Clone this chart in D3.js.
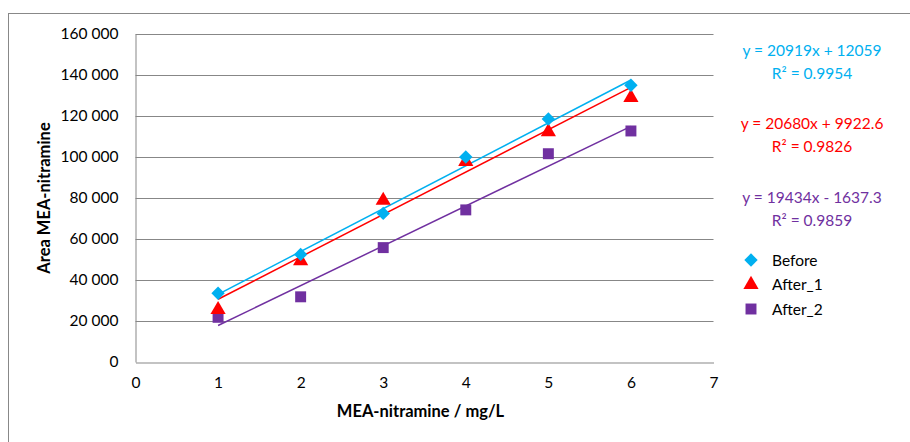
<!DOCTYPE html>
<html>
<head>
<meta charset="utf-8">
<script src="https://cdn.jsdelivr.net/npm/d3@7"></script>
<style>
  html, body { margin: 0; padding: 0; background: #fff; }
  svg { display: block; font-family: Lato, "Liberation Sans", sans-serif; }
</style>
</head>
<body>
<svg id="chart" width="910" height="442"></svg>
<script>
// Concentrations (mg/L)
const concentrations = [1, 2, 3, 4, 5, 6];

// Peak areas per series
const beforeValues = [33500, 52500, 72500, 100000, 118500, 135000];
const after1Values = [25500, 49300, 78800, 97800, 112300, 129000];
const after2Values = [21800, 31800, 55800, 74200, 101600, 112700];

// Linear trendline coefficients (slope, intercept) and R²
const seriesNames = ["Before", "After_1", "After_2"];
const trendSlopes = [20919, 20680, 19434];
const trendIntercepts = [12059, 9922.6, -1637.3];
const trendLabels = ["y = 20919x + 12059", "y = 20680x + 9922.6", "y = 19434x - 1637.3"];
const r2Labels = ["R\u00B2 = 0.9954", "R\u00B2 = 0.9826", "R\u00B2 = 0.9859"];

// Axis ticks
const xTicks = [0, 1, 2, 3, 4, 5, 6, 7];
const yTicks = [0, 20000, 40000, 60000, 80000, 100000, 120000, 140000, 160000];

const colors = ["#00B0F0", "#FF0000", "#7030A0"];
const symbols = [d3.symbolSquare, d3.symbolTriangle, d3.symbolSquare];
const rotations = [45, 0, 0];
const markerSizes = [90, 100, 120];
const seriesValues = [beforeValues, after1Values, after2Values];

const svg = d3.select("#chart");

// Chart frame
svg.append("rect")
  .attr("x", 8.5).attr("y", 13.5)
  .attr("width", 940).attr("height", 460)
  .attr("fill", "none").attr("stroke", "#888").attr("stroke-width", 1);

const x = d3.scaleLinear().domain([0, 7]).range([135.5, 713.5]);
const y = d3.scaleLinear().domain([0, 160000]).range([362, 34]);

const fmt = v => d3.format(",")(v).replace(/,/g, " ");

// Horizontal gridlines
svg.append("g").selectAll("line").data(yTicks.slice(1)).join("line")
  .attr("x1", x(0)).attr("x2", x(7))
  .attr("y1", d => Math.round(y(d)) + 0.5).attr("y2", d => Math.round(y(d)) + 0.5)
  .attr("stroke", "#878787").attr("stroke-width", 1);

// Y axis
const yAxis = svg.append("g")
  .attr("transform", `translate(${x(0)},0)`)
  .call(d3.axisLeft(y).tickValues(yTicks).tickFormat(fmt).tickSize(0).tickPadding(17));
yAxis.select(".domain").attr("stroke", "#878787");
yAxis.selectAll("text").attr("font-size", 15.5).attr("fill", "#000").attr("font-family", "Lato, sans-serif");

// X axis
const xAxis = svg.append("g")
  .attr("transform", `translate(0,${Math.round(y(0)) + 0.5})`)
  .call(d3.axisBottom(x).tickValues(xTicks).tickFormat(d3.format("d")).tickSize(0).tickPadding(14));
xAxis.select(".domain").attr("stroke", "#878787");
xAxis.selectAll("text").attr("font-size", 15.5).attr("fill", "#000").attr("font-family", "Lato, sans-serif");

// Axis titles
svg.append("text")
  .attr("x", x(3.5) - 4).attr("y", 417)
  .attr("text-anchor", "middle").attr("font-weight", "bold").attr("font-size", 16.5)
  .text("MEA-nitramine / mg/L");
svg.append("text")
  .attr("transform", `translate(50,${y(80000)}) rotate(-90)`)
  .attr("text-anchor", "middle").attr("font-weight", "bold").attr("font-size", 16.5)
  .text("Area MEA-nitramine");

// Trendlines
const plot = svg.append("g");
seriesNames.forEach((name, i) => {
  const x0 = concentrations[0], x1 = concentrations[concentrations.length - 1];
  plot.append("line")
    .attr("x1", x(x0)).attr("y1", y(trendSlopes[i] * x0 + trendIntercepts[i]))
    .attr("x2", x(x1)).attr("y2", y(trendSlopes[i] * x1 + trendIntercepts[i]))
    .attr("stroke", colors[i]).attr("stroke-width", 1.5);
});

// Markers (After_2 first so Before sits on top)
[2, 1, 0].forEach(i => {
  plot.append("g").selectAll("path").data(concentrations).join("path")
    .attr("transform", (d, j) => `translate(${x(d)},${y(seriesValues[i][j])}) rotate(${rotations[i]})`)
    .attr("d", d3.symbol().type(symbols[i]).size(markerSizes[i]))
    .attr("fill", colors[i]);
});

// Trendline equations
const eqY = [56, 129, 203];
seriesNames.forEach((name, i) => {
  svg.append("text").attr("x", 812).attr("y", eqY[i])
    .attr("text-anchor", "middle").attr("font-size", 15.5).attr("fill", colors[i])
    .text(trendLabels[i]);
  svg.append("text").attr("x", 812).attr("y", eqY[i] + 22.5)
    .attr("text-anchor", "middle").attr("font-size", 15.5).attr("fill", colors[i])
    .text(r2Labels[i]);
});

// Legend
const legend = svg.append("g");
seriesNames.forEach((name, i) => {
  const ly = 260 + i * 24.5;
  legend.append("path")
    .attr("transform", `translate(751,${ly}) rotate(${rotations[i]})`)
    .attr("d", d3.symbol().type(symbols[i]).size(markerSizes[i]))
    .attr("fill", colors[i]);
  legend.append("text").attr("x", 772).attr("y", ly + 5.5)
    .attr("font-size", 15.5).attr("fill", "#000").text(name);
});
</script>
</body>
</html>
